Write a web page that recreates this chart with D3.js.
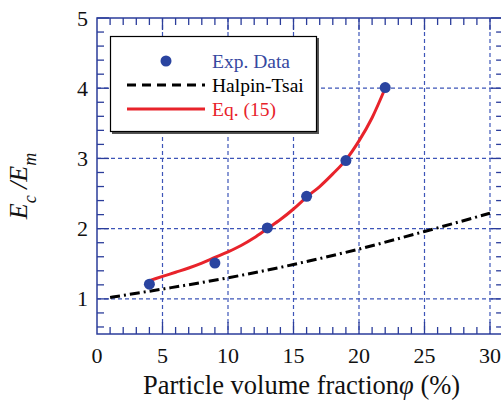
<!DOCTYPE html>
<html><head><meta charset="utf-8">
<script src="https://cdn.jsdelivr.net/npm/d3@7"></script>
<style>body{margin:0;background:#fff}svg{display:block}text{font-family:"Liberation Serif","Times New Roman",serif}</style>
</head><body>
<script>
// Data
const expX = [4, 9, 13, 16, 19, 22];
const expY = [1.21, 1.51, 2.01, 2.46, 2.97, 4.01];
const eqX = [4, 5, 6, 7, 8, 9, 10, 11, 12, 13, 14, 15, 16, 17, 18, 19, 20, 21, 22];
const eqY = [1.26, 1.32, 1.38, 1.44, 1.51, 1.59, 1.67, 1.76, 1.87, 2.0, 2.13, 2.28, 2.45, 2.6, 2.78, 2.98, 3.25, 3.58, 4.0];
const htX = [1, 5, 10, 15, 20, 25, 30];
const htY = [1.02, 1.14, 1.30, 1.49, 1.71, 1.96, 2.22];
const xTicks = [0, 5, 10, 15, 20, 25, 30];
const yTicks = [1, 2, 3, 4, 5];
const legendLabels = ["Exp. Data", "Halpin-Tsai", "Eq. (15)"];

const W = 501, H = 400;
const axisCol = "#2b3d9b", gridCol = "#3d55b8";
const svg = d3.select("body").append("svg").attr("width", W).attr("height", H);

const x = d3.scaleLinear().domain([0, 30]).range([97, 490]);
const y = d3.scaleLinear().domain([0.5, 5]).range([334, 18]);
const xR = x(31), yB = y(0.5), yT = y(5), xL = x(0);

// gridlines
const g = svg.append("g");
g.selectAll(".gx").data(xTicks.filter(d => d > 0)).join("line")
  .attr("x1", d => x(d)).attr("x2", d => x(d)).attr("y1", yT).attr("y2", yB)
  .attr("stroke", gridCol).attr("stroke-width", 1.2).attr("stroke-dasharray", "4,3");
g.selectAll(".gy").data(yTicks.filter(d => d < 5)).join("line")
  .attr("x1", xL).attr("x2", xR).attr("y1", d => y(d)).attr("y2", d => y(d))
  .attr("stroke", gridCol).attr("stroke-width", 1.2).attr("stroke-dasharray", "4,3");

// frame
svg.append("rect").attr("x", xL).attr("y", yT).attr("width", xR - xL).attr("height", yB - yT)
  .attr("fill", "none").attr("stroke", axisCol).attr("stroke-width", 1.5);

// ticks
const xMinor = d3.range(1, 31).filter(d => d % 5 !== 0);
const yMinor = d3.range(6, 50, 2).map(d => d / 10).filter(d => Math.abs(d - Math.round(d)) > 1e-6);
const tk = svg.append("g").attr("stroke", axisCol).attr("stroke-width", 1.3);
xMinor.forEach(d => {
  tk.append("line").attr("x1", x(d)).attr("x2", x(d)).attr("y1", yB).attr("y2", yB - 7);
  tk.append("line").attr("x1", x(d)).attr("x2", x(d)).attr("y1", yT).attr("y2", yT + 7);
});
xTicks.filter(d => d > 0).forEach(d => {
  tk.append("line").attr("x1", x(d)).attr("x2", x(d)).attr("y1", yB).attr("y2", yB - 12);
  tk.append("line").attr("x1", x(d)).attr("x2", x(d)).attr("y1", yT).attr("y2", yT + 12);
});
yMinor.forEach(d => {
  tk.append("line").attr("x1", xL).attr("x2", xL + 7).attr("y1", y(d)).attr("y2", y(d));
  tk.append("line").attr("x1", xR).attr("x2", xR - 7).attr("y1", y(d)).attr("y2", y(d));
});
yTicks.forEach(d => {
  tk.append("line").attr("x1", xL).attr("x2", xL + 12).attr("y1", y(d)).attr("y2", y(d));
  tk.append("line").attr("x1", xR).attr("x2", xR - 12).attr("y1", y(d)).attr("y2", y(d));
});

// tick labels
svg.selectAll(".xl").data(xTicks).join("text")
  .attr("x", d => x(d)).attr("y", 363).attr("text-anchor", "middle")
  .attr("font-size", 22).attr("fill", "#111").text(d => d);
svg.selectAll(".yl").data(yTicks).join("text")
  .attr("x", 88).attr("y", d => y(d) + 7.5).attr("text-anchor", "end")
  .attr("font-size", 22).attr("fill", "#111").text(d => d);

// Halpin-Tsai
const htLine = d3.line().x(d => x(d[0])).y(d => y(d[1])).curve(d3.curveMonotoneX);
svg.append("path").datum(d3.zip(htX, htY)).attr("d", htLine)
  .attr("fill", "none").attr("stroke", "#000").attr("stroke-width", 3)
  .attr("stroke-dasharray", "10,4,2,4");

// Eq. (15)
svg.append("path").datum(d3.zip(eqX, eqY)).attr("d", htLine)
  .attr("fill", "none").attr("stroke", "#e8232b").attr("stroke-width", 3);

// exp points
svg.selectAll(".pt").data(d3.zip(expX, expY)).join("circle")
  .attr("cx", d => x(d[0])).attr("cy", d => y(d[1])).attr("r", 5.5).attr("fill", "#2a44a0");

// legend
const lg = svg.append("g");
lg.append("rect").attr("x", 112).attr("y", 38).attr("width", 207).attr("height", 96).attr("fill", "#555");
lg.append("rect").attr("x", 110.5).attr("y", 36.5).attr("width", 206).attr("height", 95)
  .attr("fill", "#fff").attr("stroke", "#000").attr("stroke-width", 1.2);
lg.append("circle").attr("cx", 166).attr("cy", 61).attr("r", 5.5).attr("fill", "#2a44a0");
lg.append("line").attr("x1", 127).attr("x2", 205).attr("y1", 85).attr("y2", 85)
  .attr("stroke", "#000").attr("stroke-width", 3).attr("stroke-dasharray", "9,6");
lg.append("line").attr("x1", 127).attr("x2", 205).attr("y1", 109).attr("y2", 109)
  .attr("stroke", "#e8232b").attr("stroke-width", 3);
const lgCols = ["#3548a0", "#000", "#e8232b"];
lg.selectAll(".lt").data(legendLabels).join("text")
  .attr("x", 212).attr("y", (d, i) => 67.5 + i * 24).attr("font-size", 19.5)
  .attr("fill", (d, i) => lgCols[i]).text(d => d);

// x title
const xt = svg.append("text").attr("x", 143).attr("y", 394).attr("font-size", 26.5).attr("fill", "#111");
xt.append("tspan").text("Particle volume fraction");
xt.append("tspan").attr("font-style", "italic").text("φ");
xt.append("tspan").text(" (%)");

// y title
const yt = svg.append("text").attr("transform", "translate(27,186) rotate(-90)")
  .attr("text-anchor", "middle").attr("font-size", 26).attr("font-style", "italic").attr("fill", "#111");
yt.append("tspan").text("E");
yt.append("tspan").attr("font-size", 18).attr("dy", 9).text("c");
yt.append("tspan").attr("dy", -9).text(" /E");
yt.append("tspan").attr("font-size", 18).attr("dy", 9).text("m");
</script>
</body></html>
